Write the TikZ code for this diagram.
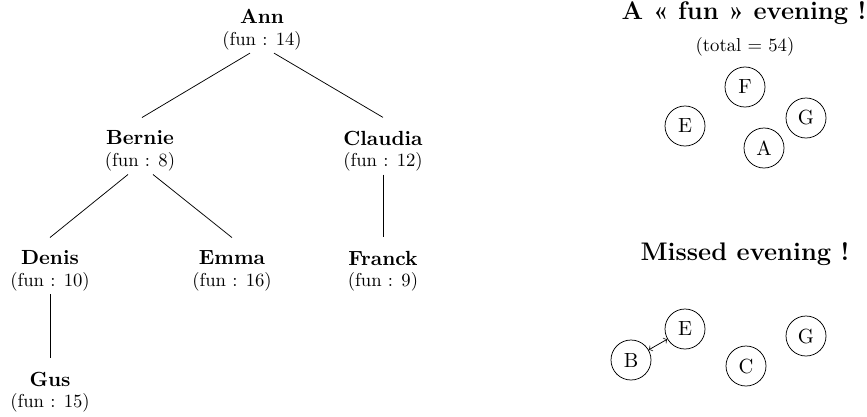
\documentclass[tikz,border=0pt]{standalone}
\usepackage{fontspec}
\newcommand\pname[1]{{\fontsize{10.95}{11.5}\selectfont\bfseries #1}}
\begin{document}
\begin{tikzpicture}[x=0.5348pt,y=-0.5348pt,
  person/.style={align=center,inner sep=0pt,font=\fontsize{10}{11.5}\selectfont},
  guest/.style={circle,draw,minimum size=21.4pt,inner sep=0pt,font=\fontsize{10.95}{12}\selectfont},
  titletext/.style={font=\fontsize{13.6}{15}\selectfont\bfseries},
  link/.style={line width=0.4pt}]
\useasboundingbox (0,0) rectangle (867,416);
% tree
\node[person] (ann) at (262,29.5) {\pname{Ann}\\(fun : 14)};
\node[person] (bernie) at (140,151) {\pname{Bernie}\\(fun : 8)};
\node[person] (claudia) at (383,151) {\pname{Claudia}\\(fun : 12)};
\node[person] (denis) at (50,271) {\pname{Denis}\\(fun : 10)};
\node[person] (emma) at (232,271) {\pname{Emma}\\(fun : 16)};
\node[person] (franck) at (383,271) {\pname{Franck}\\(fun : 9)};
\node[person] (gus) at (50,392) {\pname{Gus}\\(fun : 15)};
\draw[link] ([shift={(-12,3)}]ann.south) -- ([shift={(2,-13)}]bernie.north);
\draw[link] ([shift={(12,3)}]ann.south) -- ([shift={(0,-13)}]claudia.north);
\draw[link] ([shift={(-12,3)}]bernie.south) -- ([shift={(0,-13)}]denis.north);
\draw[link] ([shift={(13,3)}]bernie.south) -- ([shift={(0,-13)}]emma.north);
\draw[link] ([shift={(0,3)}]claudia.south) -- ([shift={(0,-13)}]franck.north);
\draw[link] ([shift={(0,3)}]denis.south) -- ([shift={(0,-13)}]gus.north);
% right side
\node[titletext] (t1) at (744,13) {A « fun » evening !};
\node[font=\fontsize{10}{12}\selectfont] (tot) at (745,47) {(total $=$ 54)};
\node[guest] (f1) at (745,87) {F};
\node[guest] (e1) at (685,126) {E};
\node[guest] (g1) at (806,118) {G};
\node[guest] (a1) at (764,148) {A};
\node[titletext] (t2) at (745,254) {Missed evening !};
\node[guest] (e2) at (685,329) {E};
\node[guest] (b2) at (631,360) {B};
\node[guest] (c2) at (746,366) {C};
\node[guest] (g2) at (806,336) {G};
\draw[link,<->] (b2) -- (e2);
\end{tikzpicture}
\end{document}
